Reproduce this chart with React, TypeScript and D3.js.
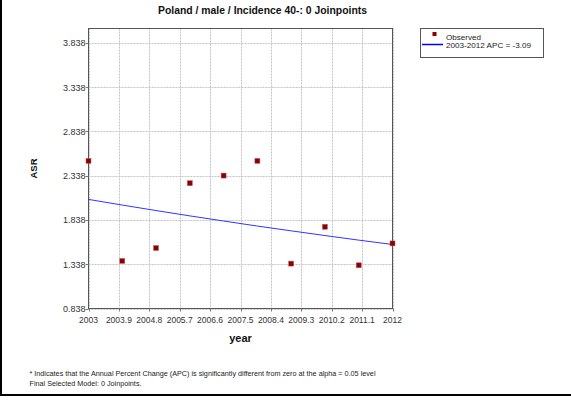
import React from "react";
import * as d3 from "d3";

const years = [2003, 2004, 2005, 2006, 2007, 2008, 2009, 2010, 2011, 2012];
const observed = [2.505, 1.375, 1.521, 2.253, 2.339, 2.505, 1.345, 1.761, 1.326, 1.573];
const fitted = [2.07, 2.006, 1.944, 1.884, 1.826, 1.769, 1.715, 1.662, 1.61, 1.561];
const xTicks = [2003, 2003.9, 2004.8, 2005.7, 2006.6, 2007.5, 2008.4, 2009.3, 2010.2, 2011.1, 2012];
const yTicks = [0.838, 1.338, 1.838, 2.338, 2.838, 3.338, 3.838];
const title = "Poland / male / Incidence 40-: 0 Joinpoints";
const legendLabels = ["Observed", "2003-2012 APC  = -3.09"];
const footnotes = [
  "* Indicates that the Annual Percent Change (APC) is significantly different from zero at the alpha = 0.05 level",
  "Final Selected Model: 0 Joinpoints.",
];

export default function App() {
  const W = 571, H = 402;
  const left = 88.5, right = 392.5, top = 28.5, bottom = 308.5;
  const x = d3.scaleLinear().domain([2003, 2012]).range([left, right]);
  const y = d3.scaleLinear().domain([0.838, 4.0]).range([bottom, top]);
  const line = d3.line<number>().x((_, i) => x(years[i])).y((d) => y(d));
  const font = "'Liberation Sans', Arial, sans-serif";
  return (
    <svg width={W} height={H} style={{ position: "absolute", left: 0, top: 0, background: "#fff" }} fontFamily={font}>
      <rect x={0} y={0} width={W} height={H} fill="#fff" />
      <line x1={1} x2={1} y1={0} y2={396} stroke="#000" strokeWidth={2} />
      <line x1={0} x2={W} y1={395} y2={395} stroke="#000" strokeWidth={2} />
      <text x={262.5} y={14} textAnchor="middle" fontWeight="bold" fontSize={10} textLength={209} lengthAdjust="spacingAndGlyphs" fill="#111">{title}</text>
      {xTicks.map((t) => (
        <line key={"gx" + t} x1={Math.round(x(t)) + 0.5} x2={Math.round(x(t)) + 0.5} y1={top} y2={bottom} stroke="#c4c4c4" strokeDasharray="2,1" />
      ))}
      {yTicks.map((t) => (
        <line key={"gy" + t} x1={left} x2={right} y1={Math.round(y(t)) + 0.5} y2={Math.round(y(t)) + 0.5} stroke="#c4c4c4" strokeDasharray="2,1" />
      ))}
      <rect x={left} y={top} width={right - left} height={bottom - top} fill="none" stroke="#555" />
      {yTicks.map((t) => (
        <g key={"ty" + t}>
          <line x1={left - 3} x2={left} y1={Math.round(y(t)) + 0.5} y2={Math.round(y(t)) + 0.5} stroke="#777" />
          <text x={left - 3} y={y(t) + 3.5} textAnchor="end" fontSize={9} fill="#333">{t.toFixed(3)}</text>
        </g>
      ))}
      {xTicks.map((t) => (
        <g key={"tx" + t}>
          <line x1={Math.round(x(t)) + 0.5} x2={Math.round(x(t)) + 0.5} y1={bottom} y2={bottom + 3} stroke="#777" />
          <text x={x(t)} y={323} textAnchor="middle" fontSize={8.5} fill="#333">{String(t)}</text>
        </g>
      ))}
      <path d={line(fitted) || ""} fill="none" stroke="#3333ff" strokeWidth={1} />
      {observed.map((v, i) => (
        <rect key={"p" + i} x={x(years[i]) - 2.5} y={y(v) - 2.5} width={5} height={5} fill="#8b0000" stroke="#c06060" strokeWidth={0.5} />
      ))}
      <text transform={`translate(37, ${(top + bottom) / 2}) rotate(-90)`} textAnchor="middle" fontWeight="bold" fontSize={9.5} fill="#111">ASR</text>
      <text x={(left + right) / 2} y={342} textAnchor="middle" fontWeight="bold" fontSize={11} fill="#111">year</text>
      <rect x={420.5} y={28.5} width={123} height={29} fill="#fff" stroke="#555" />
      <rect x={432.5} y={32} width={4} height={4} fill="#8b0000" />
      <text x={446} y={39.5} fontSize={8} fill="#222" textLength={35} lengthAdjust="spacingAndGlyphs">{legendLabels[0]}</text>
      <line x1={422} x2={443} y1={44.5} y2={44.5} stroke="#0000ff" strokeWidth={1.5} />
      <text x={446} y={47.5} fontSize={8} fill="#222" textLength={85} lengthAdjust="spacingAndGlyphs">{legendLabels[1]}</text>
      <text x={29.5} y={376} fontSize={8} fill="#222" textLength={346} lengthAdjust="spacingAndGlyphs">{footnotes[0]}</text>
      <text x={29.5} y={386} fontSize={8} fill="#222" textLength={112} lengthAdjust="spacingAndGlyphs">{footnotes[1]}</text>
    </svg>
  );
}
